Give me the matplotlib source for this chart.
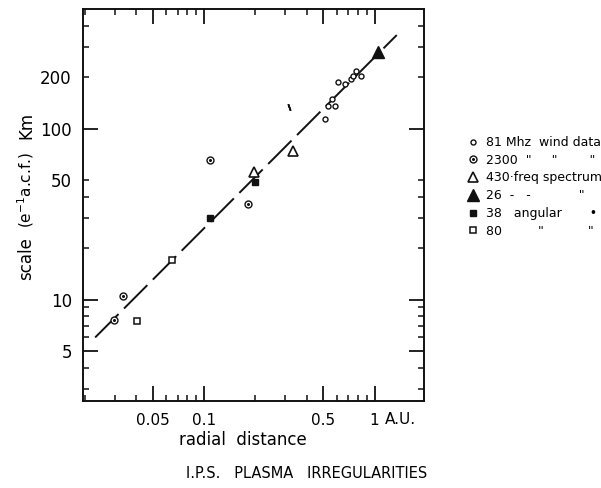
import matplotlib
matplotlib.use('Agg')
import matplotlib.pyplot as plt
from matplotlib.lines import Line2D
from matplotlib.ticker import FixedLocator, FixedFormatter, NullFormatter

plt.rcParams['font.family'] = ['DejaVu Sans']

# 81 MHz wind data (open circles)
wind81_r = [0.51, 0.534, 0.584, 0.564, 0.611, 0.667, 0.729, 0.745, 0.828, 0.78]
wind81_s = [114, 135, 136, 149, 186, 183, 194, 203, 203, 218]
# 2300 MHz wind data (dotted circles)
wind2300_r = [0.0296, 0.0334, 0.109, 0.182]
wind2300_s = [7.6, 10.5, 65, 36]
# 430 MHz freq spectrum (open triangles)
spec430_r = [0.197, 0.331]
spec430_s = [56, 74]
# 26 MHz freq spectrum (filled triangle)
spec26_r = [1.05]
spec26_s = [280]
# 38 MHz angular (filled squares)
ang38_r = [0.109, 0.198]
ang38_s = [30, 48.7]
# 80 MHz angular (open squares)
ang80_r = [0.0405, 0.065]
ang80_s = [7.5, 17]
# stray mark on the original plot
mark_r = [0.316]
mark_s = [134]
# fitted line (slope 1)
fit_r = [0.023, 1.35]
fit_s = [6.0, 352]

xmajor = [0.05, 0.1, 0.5, 1]
xmajor_labels = ['0.05', '0.1', '0.5', '1']
xminor = [0.02, 0.03, 0.04, 0.06, 0.07, 0.08, 0.09, 0.2, 0.3, 0.4, 0.6, 0.7, 0.8, 0.9]
ymajor = [5, 10, 100]
ymajor_labels = ['5', '10', '100']
yminor = [3, 4, 6, 7, 8, 9, 20, 30, 40, 50, 200, 300, 400]
yminor_labels = ['', '', '', '', '', '', '', '', '', '50', '200', '', '']

fig = plt.figure(figsize=(6.01, 4.88), dpi=100)
ax = fig.add_axes([0.138, 0.1783, 0.5675, 0.8033])
ax.set_xscale('log')
ax.set_yscale('log')
ax.set_xlim(0.0195, 1.95)
ax.set_ylim(2.55, 500)

ink = '#111111'
ax.plot(fit_r, fit_s, color=ink, lw=1.4, dashes=(17, 4))

h81, = ax.plot(wind81_r, wind81_s, 'o', ms=3.6, mfc='white', mec=ink, mew=1.0)
h2300a, = ax.plot(wind2300_r, wind2300_s, 'o', ms=5, mfc='white', mec=ink, mew=1.0)
h2300b, = ax.plot(wind2300_r, wind2300_s, 'o', ms=1.2, color=ink)
h430, = ax.plot(spec430_r, spec430_s, '^', ms=7, mfc='white', mec=ink, mew=1.2)
h26, = ax.plot(spec26_r, spec26_s, '^', ms=8, color=ink)
h38, = ax.plot(ang38_r, ang38_s, 's', ms=4.2, color=ink)
h80, = ax.plot(ang80_r, ang80_s, 's', ms=4.2, mfc='white', mec=ink, mew=1.1)
ax.plot(mark_r, mark_s, marker=(2, 2, 20), ms=5, color=ink, mew=1.2, ls='none')

for s in ax.spines.values():
    s.set_linewidth(1.4)
    s.set_color(ink)

ax.xaxis.set_major_locator(FixedLocator(xmajor))
ax.xaxis.set_major_formatter(FixedFormatter(xmajor_labels))
ax.xaxis.set_minor_locator(FixedLocator(xminor))
ax.xaxis.set_minor_formatter(NullFormatter())
ax.yaxis.set_major_locator(FixedLocator(ymajor))
ax.yaxis.set_major_formatter(FixedFormatter(ymajor_labels))
ax.yaxis.set_minor_locator(FixedLocator(yminor))
ax.yaxis.set_minor_formatter(FixedFormatter(yminor_labels))

ax.tick_params(which='both', direction='in', top=True, right=True, color=ink)
ax.tick_params(which='major', length=11, width=1.3)
ax.tick_params(which='minor', length=4.5, width=1.1)
ax.tick_params(axis='x', which='major', labelsize=11, pad=9)
ax.tick_params(axis='y', which='both', labelsize=12, pad=8)

fig.text(400 / 601, 1 - 420 / 488, 'A.U.', fontsize=11, ha='center', va='center')
fig.text(243 / 601, 1 - 440 / 488, 'radial  distance', fontsize=12, ha='center', va='center')
fig.text(26 / 601, 1 - 125 / 488, 'Km', fontsize=12, rotation=90, ha='center', va='center')
fig.text(26 / 601, 1 - 190 / 488, r'(e$^{-1}$a.c.f.)', fontsize=11, rotation=90,
         ha='center', va='center')
fig.text(26 / 601, 1 - 259 / 488, 'scale', fontsize=12, rotation=90, ha='center', va='center')
fig.text(307 / 601, 1 - 473 / 488, 'I.P.S.   PLASMA   IRREGULARITIES', fontsize=10.5,
         ha='center', va='center')

handles = [h81, (h2300a, h2300b), h430, h26, h38, h80]
labels = ['81 Mhz  wind data',
          '2300  "     "        "',
          '430·freq spectrum',
          '26  -   -            "',
          '38   angular       •',
          '80         "           "']
ax.legend(handles, labels, loc='upper left', bbox_to_anchor=(468 / 601, 1 - 136 / 488),
          bbox_transform=fig.transFigure, frameon=False, fontsize=9, borderpad=0,
          handlelength=0.8, handletextpad=0.6, labelspacing=0.38, borderaxespad=0)

fig.savefig('out.png', dpi=100)
